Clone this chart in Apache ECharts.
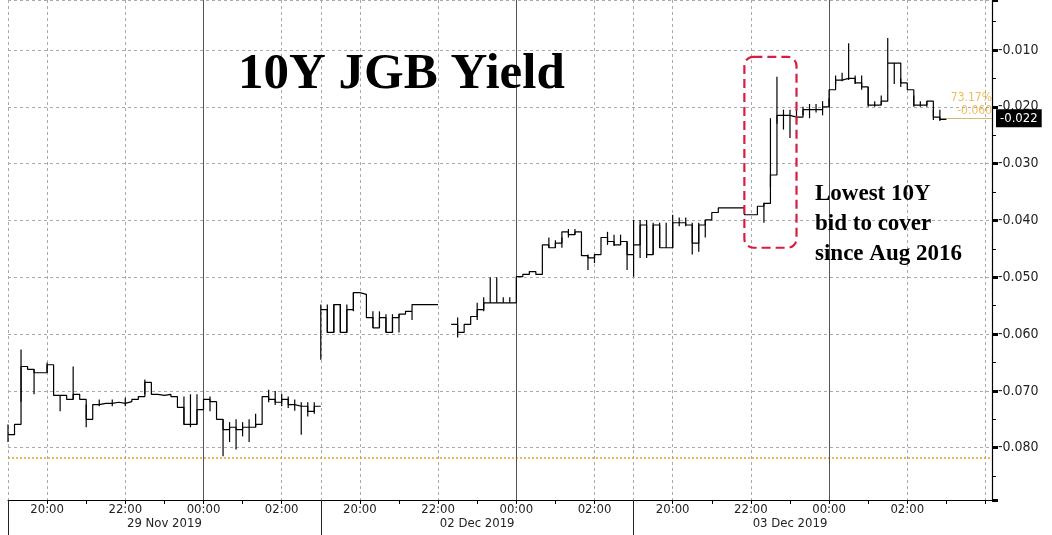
<!DOCTYPE html>
<html><head><meta charset="utf-8">
<script src="https://cdn.jsdelivr.net/npm/echarts@6/dist/echarts.min.js"></script>
<style>html,body{margin:0;padding:0;background:#fff}#c{width:1052px;height:535px}</style>
</head><body><div id="c"></div>
<script>
// ---------- data (10-minute bars, each session starts 19:00) ----------
const sessionDates = ['29 Nov 2019', '02 Dec 2019', '03 Dec 2019'];
const sessionBars = [48, 48, 56];
const axisTimeLabels = ['20:00', '22:00', '00:00', '02:00'];
const dateLabelTime = '23:00';

const day1Close = [-0.0777,-0.0759,-0.0657,-0.0662,-0.0668,-0.0668,-0.0654,-0.0708,-0.0708,-0.0715,-0.0706,-0.0715,
  -0.0750,-0.0724,-0.0722,-0.0722,-0.0720,-0.0722,-0.0719,-0.0715,-0.0710,-0.0685,-0.0706,-0.0708,
  -0.0706,-0.0710,-0.0729,-0.0759,-0.0759,-0.0733,-0.0715,-0.0719,-0.0750,-0.0768,-0.0764,-0.0768,
  -0.0764,-0.0764,-0.0759,-0.0710,-0.0715,-0.0720,-0.0715,-0.0724,-0.0727,-0.0727,-0.0736,-0.0727];
const day2Close = [-0.0557,-0.0597,-0.0548,-0.0597,-0.0557,-0.0527,-0.0530,-0.0571,-0.0589,-0.0571,-0.0597,-0.0571,
  -0.0565,-0.0560,-0.0548,-0.0548,-0.0548,-0.0548,null,null,-0.0583,-0.0597,-0.0583,-0.0569,
  -0.0557,-0.0545,-0.0545,-0.0545,-0.0545,-0.0545,-0.0499,-0.0495,-0.0490,-0.0495,-0.0443,-0.0448,
  -0.0440,-0.0420,-0.0425,-0.0420,-0.0462,-0.0466,-0.0460,-0.0430,-0.0437,-0.0443,-0.0437,-0.0460];
const day3Close = [-0.0443,-0.0408,-0.0460,-0.0408,-0.0448,-0.0448,-0.0404,-0.0404,-0.0408,-0.0440,-0.0408,-0.0399,
  -0.0386,-0.0378,-0.0378,-0.0378,-0.0378,-0.0390,-0.0390,-0.0375,-0.0370,-0.0320,-0.0215,-0.0215,
  -0.0218,-0.0218,-0.0205,-0.0205,-0.0205,-0.0200,-0.0170,-0.0153,-0.0150,-0.0150,-0.0158,-0.0165,
  -0.0197,-0.0197,-0.0190,-0.0123,-0.0123,-0.0158,-0.0170,-0.0197,-0.0197,-0.0190,-0.0218,-0.0222,
  null,null,null,null,null,null,null,null];

// intrabar high/low spikes: [bar index, low, high]
const spikes = [
  [0,-0.0790,-0.0759],[2,-0.0719,-0.0627],[4,-0.0706,-0.0662],[6,-0.0668,-0.0650],[8,-0.0736,-0.0708],
  [10,-0.0715,-0.0657],[12,-0.0764,-0.0724],[14,-0.0727,-0.0715],[16,-0.0727,-0.0715],[18,-0.0727,-0.0712],
  [21,-0.0706,-0.0680],[27,-0.0759,-0.0710],[28,-0.0764,-0.0706],
  [29,-0.0759,-0.0706],[31,-0.0736,-0.0710],[33,-0.0815,-0.0750],[34,-0.0790,-0.0755],[35,-0.0803,-0.0750],
  [36,-0.0780,-0.0755],[37,-0.0790,-0.0750],[38,-0.0764,-0.0740],[40,-0.0720,-0.0698],
  [41,-0.0725,-0.0700],[42,-0.0727,-0.0705],[43,-0.0730,-0.0710],[44,-0.0735,-0.0715],
  [45,-0.0777,-0.0720],[46,-0.0745,-0.0720],[47,-0.0740,-0.0720],
  [48,-0.0645,-0.0548],[49,-0.0597,-0.0548],[50,-0.0597,-0.0548],[51,-0.0597,-0.0548],[52,-0.0597,-0.0548],
  [53,-0.0560,-0.0527],[56,-0.0589,-0.0560],[57,-0.0589,-0.0560],[58,-0.0597,-0.0565],[59,-0.0597,-0.0565],
  [60,-0.0597,-0.0565],[62,-0.0575,-0.0560],[69,-0.0606,-0.0571],[72,-0.0575,-0.0545],[73,-0.0560,-0.0535],
  [74,-0.0545,-0.0500],[75,-0.0545,-0.0500],[76,-0.0545,-0.0535],[77,-0.0545,-0.0535],
  [83,-0.0448,-0.0430],[84,-0.0448,-0.0435],[85,-0.0448,-0.0430],[86,-0.0430,-0.0415],[87,-0.0425,-0.0415],
  [89,-0.0487,-0.0460],[90,-0.0475,-0.0460],[92,-0.0443,-0.0420],[93,-0.0445,-0.0425],[94,-0.0443,-0.0425],[95,-0.0487,-0.0437],
  [96,-0.0499,-0.0399],[97,-0.0466,-0.0399],[98,-0.0466,-0.0399],[99,-0.0460,-0.0404],[100,-0.0448,-0.0404],
  [101,-0.0448,-0.0404],[102,-0.0448,-0.0390],[103,-0.0410,-0.0395],[104,-0.0410,-0.0395],
  [105,-0.0460,-0.0404],[106,-0.0455,-0.0404],[107,-0.0430,-0.0399],[116,-0.0404,-0.0369],[117,-0.0341,-0.0220],
  [118,-0.0230,-0.0147],[119,-0.0240,-0.0205],[120,-0.0255,-0.0205],[121,-0.0225,-0.0205],[122,-0.0215,-0.0200],
  [123,-0.0220,-0.0195],[124,-0.0210,-0.0195],[125,-0.0215,-0.0190],[126,-0.0200,-0.0185],[127,-0.0160,-0.0145],
  [128,-0.0155,-0.0140],[129,-0.0153,-0.0088],[130,-0.0160,-0.0145],[131,-0.0170,-0.0145],[132,-0.0200,-0.0165],
  [133,-0.0200,-0.0190],[134,-0.0197,-0.0180],[135,-0.0123,-0.0079],[136,-0.0160,-0.0123],[137,-0.0165,-0.0150],
  [139,-0.0200,-0.0180],[140,-0.0200,-0.0190],[141,-0.0200,-0.0190],[142,-0.0223,-0.0205],[143,-0.0225,-0.0205]
];

const lastValue = -0.022;
const lowLine = -0.0817;
const sideTexts = ['73.17%', '-0.060'];
const yMin = -0.0892, yMax = -0.0012;
const titleText = '10Y JGB Yield';
const noteText = ['Lowest 10Y', 'bid to cover', 'since Aug 2016'];
const boxX = [112.8, 120.5];        // bar-index span of the highlighted auction move
const boxY = [-0.0448, -0.0112];    // yield span

// ---------- build ----------
const categories = [];
const sessionStart = [];
sessionDates.forEach((d, s) => {
  sessionStart.push(categories.length);
  for (let i = 0; i < sessionBars[s]; i++) {
    const mins = 19 * 60 + i * 10;
    const h = Math.floor(mins / 60) % 24, m = mins % 60;
    categories.push(d + '|' + String(h).padStart(2, '0') + ':' + String(m).padStart(2, '0'));
  }
});
const N = categories.length;
const tOf = v => v.split('|')[1];
const dOf = v => v.split('|')[0];

const closes = [day1Close, day2Close, day3Close];
const sessionSeries = closes.map((arr, s) => {
  const data = new Array(N).fill(null);
  arr.forEach((v, i) => { data[sessionStart[s] + i] = v; });
  return data;
});
let lastIdx = 0;
sessionSeries[2].forEach((v, i) => { if (v !== null) lastIdx = i; });

const narrow = "'Liberation Sans Narrow','DejaVu Sans Condensed','Roboto',sans-serif";
const midnights = categories.filter(c => tOf(c) === '00:00');

const series = sessionSeries.map((data, s) => ({
  type: 'line', data, step: 'end', showSymbol: false, symbol: 'none',
  lineStyle: { color: '#000', width: 1.2 }, silent: true, animation: false,
  z: 5,
  markLine: s === 0 ? {
    silent: true, symbol: 'none', animation: false, precision: 5,
    data: [
      { yAxis: lowLine, lineStyle: { color: '#e3a21a', type: [2, 2], width: 1.5 }, label: { show: false } }
    ].concat(midnights.map(c => ({ xAxis: c, lineStyle: { color: '#555', type: 'solid', width: 1 }, label: { show: false } })))
  } : s === 2 ? {
    silent: true, symbol: 'none', animation: false, precision: 5,
    data: [
      [
        { coord: [lastIdx, lastValue], lineStyle: { color: '#d9b77a', type: 'solid', width: 1 },
          label: { show: true, position: 'end', formatter: lastValue.toFixed(3), color: '#fff', backgroundColor: '#000',
            fontFamily: narrow, fontSize: 13, padding: [3, 4, 2, 4], distance: 4 } },
        { coord: [N - 1, lastValue] }
      ],
      [
        { coord: [lastIdx, lastValue], lineStyle: { opacity: 0 },
          label: { show: true, position: 'insideEndTop', formatter: sideTexts.join('\n'), color: '#e3a21a', opacity: 0.7,
            fontFamily: narrow, fontSize: 12, lineHeight: 13, align: 'right', distance: [0, 1] } },
        { coord: [N - 1, lastValue] }
      ]
    ]
  } : undefined
}));

series.push({
  type: 'custom', silent: true, animation: false, z: 6,
  data: spikes,
  encode: { x: 0, y: [1, 2] },
  renderItem: (params, api) => {
    const p1 = api.coord([api.value(0), api.value(1)]);
    const p2 = api.coord([api.value(0), api.value(2)]);
    return { type: 'line', shape: { x1: p1[0], y1: p1[1], x2: p2[0], y2: p2[1] }, style: { stroke: '#000', lineWidth: 1.2 } };
  }
});

const chart = echarts.init(document.getElementById('c'), null, { renderer: 'canvas' });
chart.setOption({
  animation: false,
  backgroundColor: '#fff',
  title: [
    { text: titleText, left: 233, top: 44,
      textStyle: { fontFamily: "'Liberation Serif','DejaVu Serif',serif", fontWeight: 'bold', fontSize: 51, color: '#000' } },
    { text: noteText.join('\n'), left: 810, top: 174,
      textStyle: { fontFamily: "'Liberation Serif','DejaVu Serif',serif", fontWeight: 'bold', fontSize: 23, lineHeight: 30, color: '#000' } }
  ],
  grid: { left: 8, right: 60, top: 0, bottom: 35, containLabel: false },
  xAxis: [
    {
      type: 'category', data: categories, boundaryGap: false, position: 'bottom',
      axisLine: { show: true, lineStyle: { color: '#000', width: 1 } },
      axisTick: { show: true, length: 4, lineStyle: { color: '#000' },
        interval: (i, v) => v.endsWith(':00') },
      axisLabel: { show: true, interval: (i, v) => axisTimeLabels.includes(tOf(v)), formatter: v => tOf(v),
        fontFamily: narrow, fontSize: 13, color: '#222', margin: 3 },
      splitLine: { show: true, interval: (i, v) => { const t = tOf(v); return t !== '00:00' && (t === '19:00' || t.endsWith(':00') && parseInt(t) % 2 === 0); },
        lineStyle: { color: '#aaa', type: [3, 3], width: 1 } }
    },
    {
      type: 'category', data: categories, boundaryGap: false, position: 'bottom',
      axisLine: { show: false },
      axisTick: { show: true, length: 35, lineStyle: { color: '#222' }, interval: (i, v) => tOf(v) === '19:00' },
      axisLabel: { show: true, interval: (i, v) => tOf(v) === dateLabelTime, formatter: v => dOf(v),
        fontFamily: narrow, fontSize: 13, color: '#222', margin: 17 },
      splitLine: { show: false }
    }
  ],
  yAxis: {
    type: 'value', position: 'right', min: yMin, max: yMax, minInterval: 0.01, maxInterval: 0.01, splitNumber: 9,
    axisLine: { show: true, lineStyle: { color: '#000', width: 1.2 } },
    axisTick: { show: true, length: 6, lineStyle: { color: '#000', width: 3 } },
    minorTick: { show: true, splitNumber: 2, length: 4, lineStyle: { color: '#000', width: 1 } },
    axisLabel: { showMinLabel: false, showMaxLabel: false, formatter: v => v.toFixed(3), fontFamily: narrow, fontSize: 14, color: '#222', margin: 6 },
    splitLine: { show: true, lineStyle: { color: '#aaa', type: [3, 3], width: 1 } }
  },
  series
});

function drawBox() {
  const a = chart.convertToPixel({ xAxisIndex: 0, yAxisIndex: 0 }, [boxX[0], boxY[1]]);
  const b = chart.convertToPixel({ xAxisIndex: 0, yAxisIndex: 0 }, [boxX[1], boxY[0]]);
  chart.setOption({ graphic: [{
    type: 'rect', silent: true, z: 20,
    shape: { x: a[0], y: a[1], width: b[0] - a[0], height: b[1] - a[1], r: 9 },
    style: { fill: 'none', stroke: '#d61f3c', lineWidth: 2.2, lineDash: [9, 5] }
  }] });
}
drawBox();
</script></body></html>
